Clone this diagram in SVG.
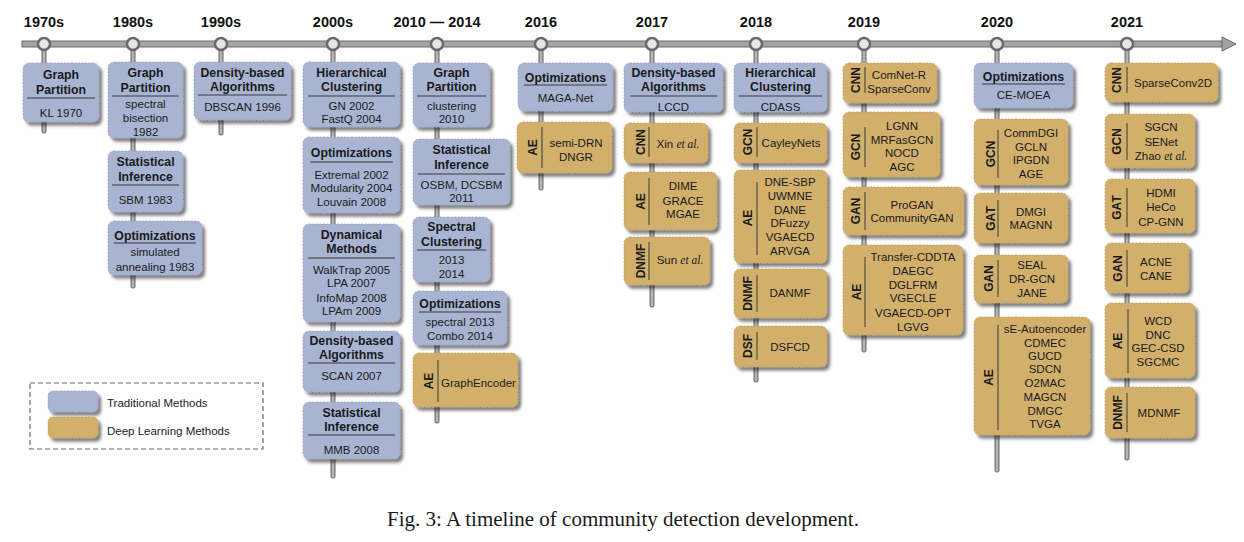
<svg xmlns="http://www.w3.org/2000/svg" width="1244" height="542" viewBox="0 0 1244 542">
<defs>
<filter id="sh" x="-10%" y="-10%" width="130%" height="140%"><feDropShadow dx="3" dy="3.5" stdDeviation="1.6" flood-color="#000" flood-opacity="0.5"/></filter>
<style>
text{font-family:"Liberation Sans",Arial,sans-serif;fill:#1a1a1a}
.b{fill:#a9b4d3;stroke:#939fbe;stroke-width:0.7;stroke-dasharray:2 1.5;filter:url(#sh)}
.d{fill:#d2b06c;stroke:#bc9b5e;stroke-width:0.7;stroke-dasharray:2 1.5;filter:url(#sh)}
.t{font-size:12.3px;font-weight:bold;text-anchor:middle}
.i{font-size:11.5px;text-anchor:middle}
.v{font-size:12px;font-weight:bold;text-anchor:middle}
.r{stroke:#3a3a3a;stroke-width:1}
.y{font-size:14.5px;font-weight:bold;text-anchor:middle;fill:#111}
.stem{fill:#b4b4b4;stroke:#555;stroke-width:0.9}
.dot{fill:#e6e6e6;stroke:#6a6a6a;stroke-width:2.5}
.ea{font-family:"Liberation Serif",serif;font-style:italic}
.lg{font-size:11.5px;fill:#222}
</style>
</defs>
<rect width="1244" height="542" fill="#fff"/>

<g id="years">
<text class="y" x="44" y="27">1970s</text>
<text class="y" x="133" y="27">1980s</text>
<text class="y" x="221" y="27">1990s</text>
<text class="y" x="333" y="27">2000s</text>
<text class="y" x="437" y="27">2010 — 2014</text>
<text class="y" x="541" y="27">2016</text>
<text class="y" x="652" y="27">2017</text>
<text class="y" x="756" y="27">2018</text>
<text class="y" x="864" y="27">2019</text>
<text class="y" x="997" y="27">2020</text>
<text class="y" x="1127" y="27">2021</text>
</g>

<g id="connectors">
<rect class="stem" x="42" y="46" width="4" height="87" rx="1.5"/>
<rect class="stem" x="131" y="46" width="4" height="242" rx="1.5"/>
<rect class="stem" x="219" y="46" width="4" height="89" rx="1.5"/>
<rect class="stem" x="331" y="46" width="4" height="432" rx="1.5"/>
<rect class="stem" x="435" y="46" width="4" height="377" rx="1.5"/>
<rect class="stem" x="539" y="46" width="4" height="144" rx="1.5"/>
<rect class="stem" x="650" y="46" width="4" height="261" rx="1.5"/>
<rect class="stem" x="754" y="46" width="4" height="336" rx="1.5"/>
<rect class="stem" x="862" y="46" width="4" height="306" rx="1.5"/>
<rect class="stem" x="995" y="46" width="4" height="426" rx="1.5"/>
<rect class="stem" x="1125" y="46" width="4" height="414" rx="1.5"/>
<rect x="22" y="41" width="1202" height="6" fill="#a4a4a4" stroke="#5e5e5e" stroke-width="0.9"/>
<polygon points="1222,37 1236,44 1222,51" fill="#a4a4a4" stroke="#5e5e5e" stroke-width="0.9"/>
<circle class="dot" cx="44" cy="44" r="6"/>
<circle class="dot" cx="133" cy="44" r="6"/>
<circle class="dot" cx="221" cy="44" r="6"/>
<circle class="dot" cx="333" cy="44" r="6"/>
<circle class="dot" cx="437" cy="44" r="6"/>
<circle class="dot" cx="541" cy="44" r="6"/>
<circle class="dot" cx="652" cy="44" r="6"/>
<circle class="dot" cx="756" cy="44" r="6"/>
<circle class="dot" cx="864" cy="44" r="6"/>
<circle class="dot" cx="997" cy="44" r="6"/>
<circle class="dot" cx="1127" cy="44" r="6"/>
</g>

<!-- 1970s -->
<g id="n1970-gp"><rect class="b" x="23" y="63" width="76" height="59" rx="6"/>
<text class="t" x="61" y="79">Graph</text><text class="t" x="61" y="94">Partition</text>
<line class="r" x1="27" y1="98" x2="95" y2="98"/><text class="i" x="61" y="117">KL 1970</text></g>

<!-- 1980s -->
<g id="n1980-gp"><rect class="b" x="108" y="62" width="75" height="76" rx="6"/>
<text class="t" x="145.5" y="77">Graph</text><text class="t" x="145.5" y="92">Partition</text>
<line class="r" x1="112" y1="96" x2="179" y2="96"/>
<text class="i" x="145.5" y="108">spectral</text><text class="i" x="145.5" y="122">bisection</text><text class="i" x="145.5" y="136">1982</text></g>
<g id="n1980-si"><rect class="b" x="108" y="151" width="75" height="61" rx="6"/>
<text class="t" x="145.5" y="166">Statistical</text><text class="t" x="145.5" y="181">Inference</text>
<line class="r" x1="112" y1="185" x2="179" y2="185"/><text class="i" x="145.5" y="204">SBM 1983</text></g>
<g id="n1980-op"><rect class="b" x="108" y="221" width="94" height="54" rx="6"/>
<text class="t" x="155" y="240">Optimizations</text>
<line class="r" x1="114" y1="243" x2="196" y2="243"/>
<text class="i" x="155" y="256">simulated</text><text class="i" x="155" y="271">annealing 1983</text></g>

<!-- 1990s -->
<g id="n1990-db"><rect class="b" x="194" y="62" width="97" height="58" rx="6"/>
<text class="t" x="242.5" y="77">Density-based</text><text class="t" x="242.5" y="91">Algorithms</text>
<line class="r" x1="198" y1="95" x2="287" y2="95"/><text class="i" x="242.5" y="111">DBSCAN 1996</text></g>

<!-- 2000s -->
<g id="n2000-hc"><rect class="b" x="303" y="62" width="97" height="65" rx="6"/>
<text class="t" x="351.5" y="77">Hierarchical</text><text class="t" x="351.5" y="91">Clustering</text>
<line class="r" x1="308" y1="96" x2="395" y2="96"/>
<text class="i" x="351.5" y="110">GN 2002</text><text class="i" x="351.5" y="123">FastQ 2004</text></g>
<g id="n2000-op"><rect class="b" x="303" y="137" width="97" height="76" rx="6"/>
<text class="t" x="351.5" y="157">Optimizations</text>
<line class="r" x1="310" y1="162" x2="393" y2="162"/>
<text class="i" x="351.5" y="179">Extremal 2002</text><text class="i" x="351.5" y="192">Modularity 2004</text><text class="i" x="351.5" y="206">Louvain 2008</text></g>
<g id="n2000-dm"><rect class="b" x="303" y="224" width="97" height="98" rx="6"/>
<text class="t" x="351.5" y="239">Dynamical</text><text class="t" x="351.5" y="253">Methods</text>
<line class="r" x1="308" y1="258" x2="395" y2="258"/>
<text class="i" x="351.5" y="274">WalkTrap 2005</text><text class="i" x="351.5" y="287">LPA 2007</text><text class="i" x="351.5" y="302">InfoMap 2008</text><text class="i" x="351.5" y="315">LPAm 2009</text></g>
<g id="n2000-db"><rect class="b" x="303" y="331" width="97" height="61" rx="6"/>
<text class="t" x="351.5" y="345">Density-based</text><text class="t" x="351.5" y="359">Algorithms</text>
<line class="r" x1="308" y1="363" x2="395" y2="363"/><text class="i" x="351.5" y="380">SCAN 2007</text></g>
<g id="n2000-si"><rect class="b" x="303" y="402" width="97" height="57" rx="6"/>
<text class="t" x="351.5" y="417">Statistical</text><text class="t" x="351.5" y="431">Inference</text>
<line class="r" x1="308" y1="435" x2="395" y2="435"/><text class="i" x="351.5" y="454">MMB 2008</text></g>

<!-- 2010-2014 -->
<g id="n2010-gp"><rect class="b" x="413" y="63" width="77" height="64" rx="6"/>
<text class="t" x="451.5" y="77">Graph</text><text class="t" x="451.5" y="91">Partition</text>
<line class="r" x1="417" y1="96" x2="486" y2="96"/>
<text class="i" x="451.5" y="110">clustering</text><text class="i" x="451.5" y="123">2010</text></g>
<g id="n2010-si"><rect class="b" x="413" y="139" width="97" height="66" rx="6"/>
<text class="t" x="461.5" y="154">Statistical</text><text class="t" x="461.5" y="169">Inference</text>
<line class="r" x1="418" y1="174" x2="505" y2="174"/>
<text class="i" x="461.5" y="189">OSBM, DCSBM</text><text class="i" x="461.5" y="202">2011</text></g>
<g id="n2010-sc"><rect class="b" x="413" y="217" width="77" height="65" rx="6"/>
<text class="t" x="451.5" y="231">Spectral</text><text class="t" x="451.5" y="246">Clustering</text>
<line class="r" x1="417" y1="250" x2="486" y2="250"/>
<text class="i" x="451.5" y="264">2013</text><text class="i" x="451.5" y="278">2014</text></g>
<g id="n2010-op"><rect class="b" x="413" y="291" width="94" height="54" rx="6"/>
<text class="t" x="460" y="308">Optimizations</text>
<line class="r" x1="419" y1="312" x2="501" y2="312"/>
<text class="i" x="460" y="326">spectral 2013</text><text class="i" x="460" y="340">Combo 2014</text></g>
<g id="n2010-ae"><rect class="d" x="413" y="353" width="105" height="54" rx="6"/>
<text class="v" transform="translate(432.5,381) rotate(-90)">AE</text>
<line class="r" x1="438" y1="360" x2="438" y2="402"/>
<text class="i" x="478.5" y="387">GraphEncoder</text></g>

<!-- 2016 -->
<g id="n2016-op"><rect class="b" x="518" y="63" width="95" height="48" rx="6"/>
<text class="t" x="565.5" y="82">Optimizations</text>
<line class="r" x1="524" y1="85" x2="607" y2="85"/>
<text class="i" x="565.5" y="102">MAGA-Net</text></g>
<g id="n2016-ae"><rect class="d" x="517" y="122" width="95" height="51" rx="6"/>
<text class="v" transform="translate(536.5,147.5) rotate(-90)">AE</text>
<line class="r" x1="542" y1="127" x2="542" y2="168"/>
<text class="i" x="576" y="147">semi-DRN</text><text class="i" x="576" y="161">DNGR</text></g>

<!-- 2017 -->
<g id="n2017-db"><rect class="b" x="624" y="63" width="99" height="49" rx="6"/>
<text class="t" x="673.5" y="77">Density-based</text><text class="t" x="673.5" y="91">Algorithms</text>
<line class="r" x1="630" y1="96" x2="717" y2="96"/><text class="i" x="673.5" y="111">LCCD</text></g>
<g id="n2017-cnn"><rect class="d" x="624" y="123" width="84" height="40" rx="6"/>
<text class="v" transform="translate(644.5,142) rotate(-90)">CNN</text>
<line class="r" x1="649" y1="127" x2="649" y2="157"/>
<text class="i" x="678" y="148">Xin <tspan class="ea">et al.</tspan></text></g>
<g id="n2017-ae"><rect class="d" x="624" y="172" width="93" height="58" rx="6"/>
<text class="v" transform="translate(644.5,201.5) rotate(-90)">AE</text>
<line class="r" x1="649" y1="178" x2="649" y2="225"/>
<text class="i" x="683" y="190">DIME</text><text class="i" x="683" y="205">GRACE</text><text class="i" x="683" y="218">MGAE</text></g>
<g id="n2017-dnmf"><rect class="d" x="624" y="237" width="86" height="48" rx="6"/>
<text class="v" transform="translate(644.5,261) rotate(-90)">DNMF</text>
<line class="r" x1="649" y1="242" x2="649" y2="280"/>
<text class="i" x="680" y="264">Sun <tspan class="ea">et al.</tspan></text></g>

<!-- 2018 -->
<g id="n2018-hc"><rect class="b" x="734" y="63" width="93" height="49" rx="6"/>
<text class="t" x="780.5" y="77">Hierarchical</text><text class="t" x="780.5" y="91">Clustering</text>
<line class="r" x1="739" y1="96" x2="822" y2="96"/><text class="i" x="780.5" y="111">CDASS</text></g>
<g id="n2018-gcn"><rect class="d" x="734" y="123" width="93" height="40" rx="6"/>
<text class="v" transform="translate(751.5,142) rotate(-90)">GCN</text>
<line class="r" x1="757" y1="127" x2="757" y2="157"/>
<text class="i" x="791" y="147">CayleyNets</text></g>
<g id="n2018-ae"><rect class="d" x="734" y="170" width="93" height="93" rx="6"/>
<text class="v" transform="translate(751.5,218) rotate(-90)">AE</text>
<line class="r" x1="757" y1="182" x2="757" y2="255"/>
<text class="i" x="790" y="186">DNE-SBP</text><text class="i" x="790" y="200">UWMNE</text><text class="i" x="790" y="214">DANE</text><text class="i" x="790" y="227">DFuzzy</text><text class="i" x="790" y="241">VGAECD</text><text class="i" x="790" y="255">ARVGA</text></g>
<g id="n2018-dnmf"><rect class="d" x="734" y="269" width="93" height="49" rx="6"/>
<text class="v" transform="translate(751.5,293.5) rotate(-90)">DNMF</text>
<line class="r" x1="757" y1="275" x2="757" y2="312"/>
<text class="i" x="790" y="297">DANMF</text></g>
<g id="n2018-dsf"><rect class="d" x="734" y="326" width="93" height="41" rx="6"/>
<text class="v" transform="translate(751.5,346) rotate(-90)">DSF</text>
<line class="r" x1="757" y1="332" x2="757" y2="360"/>
<text class="i" x="790" y="351">DSFCD</text></g>

<!-- 2019 -->
<g id="n2019-cnn"><rect class="d" x="843" y="63" width="94" height="40" rx="6"/>
<text class="v" transform="translate(859.5,80) rotate(-90)">CNN</text>
<line class="r" x1="865" y1="67" x2="865" y2="93"/>
<text class="i" x="899" y="79">ComNet-R</text><text class="i" x="899" y="93">SparseConv</text></g>
<g id="n2019-gcn"><rect class="d" x="843" y="112" width="97" height="65" rx="6"/>
<text class="v" transform="translate(859.5,147) rotate(-90)">GCN</text>
<line class="r" x1="865" y1="127" x2="865" y2="167"/>
<text class="i" x="902" y="130">LGNN</text><text class="i" x="902" y="144">MRFasGCN</text><text class="i" x="902" y="157">NOCD</text><text class="i" x="902" y="171">AGC</text></g>
<g id="n2019-gan"><rect class="d" x="843" y="187" width="121" height="48" rx="6"/>
<text class="v" transform="translate(859.5,211) rotate(-90)">GAN</text>
<line class="r" x1="865" y1="192" x2="865" y2="230"/>
<text class="i" x="912" y="209">ProGAN</text><text class="i" x="912" y="222">CommunityGAN</text></g>
<g id="n2019-ae"><rect class="d" x="843" y="245" width="120" height="90" rx="6"/>
<text class="v" transform="translate(860.5,292) rotate(-90)">AE</text>
<line class="r" x1="865" y1="257" x2="865" y2="327"/>
<text class="i" x="913" y="261">Transfer-CDDTA</text><text class="i" x="913" y="275">DAEGC</text><text class="i" x="913" y="289">DGLFRM</text><text class="i" x="913" y="302">VGECLE</text><text class="i" x="913" y="317">VGAECD-OPT</text><text class="i" x="913" y="331">LGVG</text></g>

<!-- 2020 -->
<g id="n2020-op"><rect class="b" x="974" y="63" width="99" height="45" rx="6"/>
<text class="t" x="1023.5" y="81">Optimizations</text>
<line class="r" x1="982" y1="84" x2="1065" y2="84"/>
<text class="i" x="1023.5" y="99">CE-MOEA</text></g>
<g id="n2020-gcn"><rect class="d" x="974" y="119" width="94" height="66" rx="6"/>
<text class="v" transform="translate(994.5,154) rotate(-90)">GCN</text>
<line class="r" x1="998" y1="130" x2="998" y2="178"/>
<text class="i" x="1031" y="137">CommDGI</text><text class="i" x="1031" y="151">GCLN</text><text class="i" x="1031" y="164">IPGDN</text><text class="i" x="1031" y="178">AGE</text></g>
<g id="n2020-gat"><rect class="d" x="974" y="193" width="94" height="50" rx="6"/>
<text class="v" transform="translate(994.5,218.5) rotate(-90)">GAT</text>
<line class="r" x1="998" y1="200" x2="998" y2="237"/>
<text class="i" x="1031" y="216">DMGI</text><text class="i" x="1031" y="229">MAGNN</text></g>
<g id="n2020-gan"><rect class="d" x="974" y="255" width="94" height="48" rx="6"/>
<text class="v" transform="translate(992.5,278.5) rotate(-90)">GAN</text>
<line class="r" x1="998" y1="260" x2="998" y2="297"/>
<text class="i" x="1032" y="269">SEAL</text><text class="i" x="1032" y="283">DR-GCN</text><text class="i" x="1032" y="297">JANE</text></g>
<g id="n2020-ae"><rect class="d" x="974" y="317" width="116" height="118" rx="6"/>
<text class="v" transform="translate(992.5,377.5) rotate(-90)">AE</text>
<line class="r" x1="998" y1="325" x2="998" y2="430"/>
<text class="i" x="1045" y="333">sE-Autoencoder</text><text class="i" x="1045" y="347">CDMEC</text><text class="i" x="1045" y="360">GUCD</text><text class="i" x="1045" y="373">SDCN</text><text class="i" x="1045" y="387">O2MAC</text><text class="i" x="1045" y="401">MAGCN</text><text class="i" x="1045" y="415">DMGC</text><text class="i" x="1045" y="428">TVGA</text></g>

<!-- 2021 -->
<g id="n2021-cnn"><rect class="d" x="1105" y="63" width="113" height="39" rx="6"/>
<text class="v" transform="translate(1120.5,80) rotate(-90)">CNN</text>
<line class="r" x1="1127" y1="67" x2="1127" y2="93"/>
<text class="i" x="1173" y="87">SparseConv2D</text></g>
<g id="n2021-gcn"><rect class="d" x="1105" y="114" width="90" height="54" rx="6"/>
<text class="v" transform="translate(1120.5,141.5) rotate(-90)">GCN</text>
<line class="r" x1="1127" y1="123" x2="1127" y2="160"/>
<text class="i" x="1161" y="131">SGCN</text><text class="i" x="1161" y="146">SENet</text><text class="i" x="1161" y="160">Zhao <tspan class="ea">et al.</tspan></text></g>
<g id="n2021-gat"><rect class="d" x="1105" y="179" width="90" height="54" rx="6"/>
<text class="v" transform="translate(1120.5,207.5) rotate(-90)">GAT</text>
<line class="r" x1="1127" y1="188" x2="1127" y2="227"/>
<text class="i" x="1161" y="197">HDMI</text><text class="i" x="1161" y="211">HeCo</text><text class="i" x="1161" y="226">CP-GNN</text></g>
<g id="n2021-gan"><rect class="d" x="1105" y="243" width="84" height="50" rx="6"/>
<text class="v" transform="translate(1121.5,268.5) rotate(-90)">GAN</text>
<line class="r" x1="1127" y1="250" x2="1127" y2="287"/>
<text class="i" x="1156" y="266">ACNE</text><text class="i" x="1156" y="280">CANE</text></g>
<g id="n2021-ae"><rect class="d" x="1105" y="303" width="90" height="75" rx="6"/>
<text class="v" transform="translate(1121.5,341) rotate(-90)">AE</text>
<line class="r" x1="1128" y1="309" x2="1128" y2="373"/>
<text class="i" x="1158" y="325">WCD</text><text class="i" x="1158" y="339">DNC</text><text class="i" x="1158" y="352">GEC-CSD</text><text class="i" x="1158" y="366">SGCMC</text></g>
<g id="n2021-dnmf"><rect class="d" x="1105" y="387" width="90" height="51" rx="6"/>
<text class="v" transform="translate(1121.5,412.5) rotate(-90)">DNMF</text>
<line class="r" x1="1127" y1="393" x2="1127" y2="432"/>
<text class="i" x="1159" y="417">MDNMF</text></g>

<!-- legend -->
<g id="legend">
<rect x="30" y="383" width="233" height="66" fill="none" stroke="#666" stroke-width="1.2" stroke-dasharray="5 3"/>
<rect class="b" x="48" y="391" width="50" height="21" rx="5"/>
<rect class="d" x="48" y="417" width="50" height="21" rx="5"/>
<text class="lg" x="107" y="407">Traditional Methods</text>
<text class="lg" x="107" y="435">Deep Learning Methods</text>
</g>

<text x="623" y="526" font-family="'Liberation Serif','Times New Roman',serif" font-size="21" text-anchor="middle" style="font-family:'Liberation Serif','Times New Roman',serif;fill:#1a1a1a">Fig. 3: A timeline of community detection development.</text>
</svg>
